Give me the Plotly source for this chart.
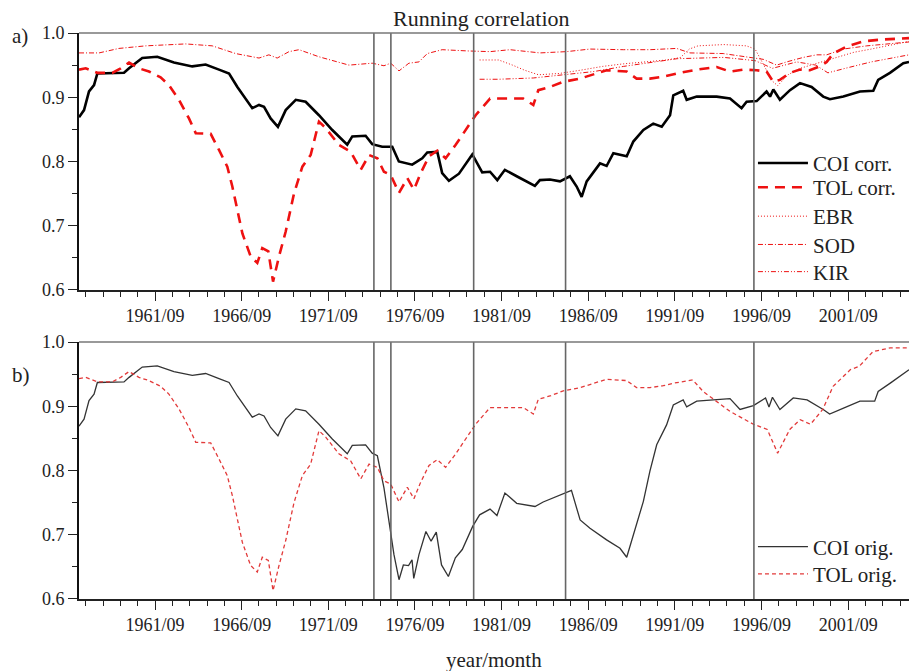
import datetime as dt
import plotly.graph_objects as go

# ---- data (time in decimal years, values are correlation coefficients) ----
COI_T = [1957.28, 1957.57, 1957.86, 1958.15, 1958.34, 1959.20, 1959.88, 1960.17, 1960.93,
         1961.80, 1962.76, 1963.82, 1964.59, 1965.36, 1965.94, 1966.42, 1966.90, 1967.28,
         1967.67, 1967.96, 1968.34, 1968.76, 1969.21, 1969.79, 1970.36, 1971.13, 1971.90,
         1972.76, 1973.05, 1973.82, 1974.20]
COI_V = [0.869, 0.880, 0.909, 0.919, 0.937, 0.938, 0.938, 0.945, 0.961,
         0.963, 0.954, 0.948, 0.951, 0.943, 0.937, 0.916, 0.898, 0.883,
         0.888, 0.885, 0.867, 0.854, 0.880, 0.896, 0.893, 0.872, 0.849,
         0.826, 0.839, 0.840, 0.827]

COI_CORR_LATE_T = [1974.78, 1975.36, 1975.74, 1976.51, 1977.09, 1977.38, 1977.96, 1978.24,
                   1978.63, 1979.21, 1979.98, 1980.55, 1981.00, 1981.42, 1981.86, 1982.54,
                   1983.59, 1983.88, 1984.46, 1985.04, 1985.61, 1986.00, 1986.29, 1986.58,
                   1987.35, 1987.73, 1988.12, 1988.89, 1989.27, 1989.85, 1990.42, 1990.91,
                   1991.39, 1991.58, 1992.15, 1992.35, 1992.93, 1994.08, 1994.85, 1995.52,
                   1995.81, 1996.39, 1996.96, 1997.16, 1997.35, 1997.73, 1998.31, 1998.89,
                   1999.56, 2000.23, 2000.62, 2001.39, 2002.35, 2003.12, 2003.40, 2004.08,
                   2004.85, 2005.18]
COI_CORR_LATE_V = [0.823, 0.823, 0.800, 0.795, 0.805, 0.814, 0.815, 0.782,
                   0.770, 0.781, 0.811, 0.783, 0.784, 0.771, 0.787, 0.777,
                   0.762, 0.771, 0.772, 0.769, 0.777, 0.761, 0.745, 0.769,
                   0.797, 0.793, 0.813, 0.808, 0.831, 0.849, 0.859, 0.854,
                   0.872, 0.903, 0.910, 0.896, 0.901, 0.901, 0.898, 0.883,
                   0.893, 0.894, 0.909, 0.901, 0.912, 0.896, 0.911, 0.922,
                   0.916, 0.901, 0.897, 0.901, 0.909, 0.910, 0.927, 0.938,
                   0.953, 0.955]

COI_ORIG_LATE_T = [1974.50, 1974.88, 1975.27, 1975.46, 1975.75, 1976.00, 1976.30, 1976.50,
                   1976.60, 1976.90, 1977.30, 1977.60, 1977.90, 1978.20, 1978.60, 1979.00,
                   1979.40, 1980.00, 1980.40, 1981.00, 1981.40, 1981.86, 1982.54, 1983.60,
                   1984.07, 1984.85, 1985.70, 1986.20, 1986.77, 1987.73, 1988.50, 1988.89,
                   1989.46, 1989.85, 1990.23, 1990.62, 1991.19, 1991.58, 1992.15, 1992.35,
                   1992.93, 1994.08, 1994.85, 1995.43, 1996.20, 1996.90, 1997.10, 1997.30,
                   1997.73, 1998.50, 1999.30, 2000.23, 2000.60, 2001.40, 2002.35, 2003.20,
                   2003.40, 2004.10, 2005.18]
COI_ORIG_LATE_V = [0.823, 0.773, 0.705, 0.669, 0.630, 0.653, 0.652, 0.661,
                   0.632, 0.669, 0.705, 0.690, 0.704, 0.653, 0.635, 0.664,
                   0.677, 0.713, 0.731, 0.740, 0.730, 0.765, 0.749, 0.744,
                   0.751, 0.760, 0.769, 0.723, 0.710, 0.692, 0.679, 0.665,
                   0.716, 0.752, 0.799, 0.840, 0.871, 0.902, 0.910, 0.899,
                   0.908, 0.910, 0.912, 0.895, 0.901, 0.913, 0.899, 0.914,
                   0.895, 0.913, 0.910, 0.895, 0.888, 0.897, 0.908, 0.908,
                   0.923, 0.936, 0.957]

TOL_T = [1957.28, 1957.67, 1958.34, 1959.20, 1959.69, 1960.17, 1960.74, 1961.32, 1961.99,
         1962.47, 1963.05, 1963.63, 1964.02, 1964.88, 1965.36, 1965.84, 1966.13, 1966.42,
         1966.71, 1967.19, 1967.57, 1967.86, 1968.21, 1968.48, 1968.82, 1969.21, 1969.69,
         1970.17, 1970.65, 1971.13, 1971.52, 1972.28, 1972.96, 1973.54, 1974.02, 1974.50,
         1974.88, 1975.27, 1975.75, 1976.23, 1976.61, 1977.00, 1977.48, 1977.96, 1978.44,
         1979.02, 1979.60, 1980.17, 1981.00, 1981.77, 1982.92, 1983.50, 1983.79, 1984.46,
         1985.23, 1986.19, 1987.73, 1988.89, 1989.46, 1990.23, 1991.00]
TOL_V = [0.943, 0.945, 0.938, 0.938, 0.945, 0.954, 0.945, 0.940, 0.931,
         0.919, 0.896, 0.867, 0.844, 0.843, 0.818, 0.792, 0.761, 0.722,
         0.688, 0.652, 0.642, 0.665, 0.660, 0.613, 0.652, 0.691, 0.750,
         0.792, 0.810, 0.862, 0.852, 0.826, 0.815, 0.787, 0.810, 0.805,
         0.784, 0.779, 0.751, 0.774, 0.756, 0.782, 0.808, 0.817, 0.805,
         0.826, 0.849, 0.872, 0.898, 0.898, 0.898, 0.888, 0.911, 0.916,
         0.924, 0.929, 0.942, 0.940, 0.929, 0.929, 0.932]

TOL_CORR_LATE_T = [1991.96, 1992.93, 1994.08, 1994.85, 1995.62, 1996.39, 1996.96, 1997.35,
                   1997.73, 1998.31, 1998.89, 1999.46, 2000.04, 2000.43, 2000.81, 2001.58,
                   2002.54, 2003.69, 2005.18]
TOL_CORR_LATE_V = [0.938, 0.943, 0.947, 0.940, 0.943, 0.942, 0.940, 0.924,
                   0.927, 0.938, 0.943, 0.942, 0.948, 0.955, 0.968, 0.979,
                   0.987, 0.990, 0.992]

TOL_ORIG_LATE_T = [1991.60, 1992.70, 1993.30, 1994.85, 1996.20, 1997.00, 1997.60, 1998.30,
                   1998.90, 1999.50, 2000.20, 2000.80, 2001.80, 2002.30, 2003.10, 2004.10,
                   2005.18]
TOL_ORIG_LATE_V = [0.936, 0.941, 0.923, 0.892, 0.872, 0.864, 0.827, 0.864,
                   0.879, 0.872, 0.895, 0.931, 0.957, 0.962, 0.985, 0.991,
                   0.991]

SOD_T = [1957.28, 1958.44, 1959.59, 1961.13, 1963.44, 1964.97, 1966.32, 1967.67, 1968.24,
         1968.72, 1969.40, 1969.98, 1971.13, 1972.86, 1974.20, 1974.88, 1975.27, 1975.75,
         1976.32, 1976.90, 1977.38, 1978.24, 1979.79, 1981.00, 1982.15, 1983.88, 1985.42,
         1986.77, 1988.69, 1990.23, 1991.77, 1992.54, 1994.46, 1995.81, 1996.77, 1997.54,
         1998.12, 1999.08, 1999.85, 2000.43, 2001.39, 2002.74, 2004.08, 2005.18]
SOD_V = [0.969, 0.969, 0.976, 0.980, 0.983, 0.980, 0.968, 0.961, 0.966,
         0.961, 0.971, 0.974, 0.963, 0.950, 0.953, 0.949, 0.953, 0.941,
         0.953, 0.955, 0.968, 0.974, 0.972, 0.971, 0.974, 0.969, 0.971,
         0.975, 0.974, 0.974, 0.976, 0.969, 0.968, 0.963, 0.959, 0.950,
         0.955, 0.962, 0.966, 0.966, 0.975, 0.980, 0.983, 0.986]

EBR_T = [1980.40, 1981.50, 1982.30, 1983.00, 1983.80, 1985.00, 1986.20, 1987.50, 1988.70,
         1990.00, 1991.20, 1992.00, 1992.50, 1993.00, 1994.50, 1995.80, 1996.30, 1996.80,
         1997.30, 1997.60, 1998.20, 1998.90, 1999.50, 2000.20, 2001.00, 2002.00, 2003.00,
         2004.00, 2005.18]
EBR_V = [0.958, 0.958, 0.950, 0.942, 0.935, 0.937, 0.942, 0.948, 0.952,
         0.955, 0.958, 0.962, 0.975, 0.980, 0.982, 0.980, 0.975, 0.950,
         0.925, 0.918, 0.935, 0.945, 0.950, 0.955, 0.962, 0.970, 0.975,
         0.980, 0.987]

KIR_T = [1980.40, 1981.50, 1983.50, 1985.40, 1987.00, 1988.70, 1990.00, 1991.80, 1994.50,
         1996.30, 1997.30, 1998.70, 1999.80, 2000.50, 2001.50, 2003.00, 2005.18]
KIR_V = [0.928, 0.928, 0.930, 0.935, 0.940, 0.948, 0.953, 0.960, 0.962,
         0.957, 0.945, 0.955, 0.950, 0.938, 0.945, 0.955, 0.966]

# dates of the vertical reference lines
EVENT_T = [1974.30, 1975.28, 1980.06, 1985.36, 1996.23]

X_RANGE = [1957.28, 2005.18]


def to_date(y):
    """Decimal year -> ISO date string."""
    year = int(y)
    start = dt.datetime(year, 1, 1)
    end = dt.datetime(year + 1, 1, 1)
    return (start + (end - start) * (y - year)).strftime("%Y-%m-%d")


def dates(ts):
    return [to_date(t) for t in ts]


SERIF = "Liberation Serif"
RED = "#ee1111"

# (name, x, y, line style, subplot)
series = [
    ("COI corr.", COI_T + COI_CORR_LATE_T, COI_V + COI_CORR_LATE_V,
     dict(color="black", width=2.6), 1),
    ("TOL corr.", TOL_T + TOL_CORR_LATE_T, TOL_V + TOL_CORR_LATE_V,
     dict(color=RED, width=2.6, dash="10px,7px"), 1),
    ("EBR", EBR_T, EBR_V, dict(color=RED, width=1, dash="1px,2px"), 1),
    ("SOD", SOD_T, SOD_V, dict(color=RED, width=1, dash="5px,2px,1px,2px"), 1),
    ("KIR", KIR_T, KIR_V, dict(color=RED, width=1, dash="5px,2px,1px,2px,1px,2px"), 1),
    ("COI orig.", COI_T + COI_ORIG_LATE_T, COI_V + COI_ORIG_LATE_V,
     dict(color="#333333", width=1.3), 2),
    ("TOL orig.", TOL_T + TOL_ORIG_LATE_T, TOL_V + TOL_ORIG_LATE_V,
     dict(color="#e23a3a", width=1.3, dash="4px,3px"), 2),
]

# one legend box per entry so the rows sit at a fixed spacing
LEGEND_TOPS = [0.806, 0.763, 0.712, 0.662, 0.614, 0.128, 0.080]
legend_font = dict(family=SERIF, size=21, color="#222222")

fig = go.Figure()
legend_layout = {}
for i, (name, ts, vs, line, row) in enumerate(series):
    key = "legend" if i == 0 else f"legend{i + 1}"
    sfx = "" if row == 1 else "2"
    fig.add_trace(go.Scatter(x=dates(ts), y=vs, mode="lines", name=name, line=line,
                             xaxis="x" + sfx, yaxis="y" + sfx, legend=key, showlegend=True))
    legend_layout[key] = dict(x=0.812, y=LEGEND_TOPS[i], xanchor="left", yanchor="top",
                              font=legend_font, bgcolor="rgba(0,0,0,0)", itemwidth=50)

shapes = []
for ax_x, ax_y in (("x", "y"), ("x2", "y2")):
    for t in EVENT_T:
        shapes.append(dict(type="line", xref=ax_x, yref=ax_y + " domain",
                           x0=to_date(t), x1=to_date(t), y0=0, y1=1,
                           line=dict(color="#666666", width=1.6)))
    shapes.append(dict(type="line", xref="paper", yref=ax_y + " domain",
                       x0=0, x1=1, y0=1, y1=1, line=dict(color="#777777", width=1.6)))

tick_font = dict(family=SERIF, size=18, color="#222222")
xcommon = dict(type="date", range=[to_date(X_RANGE[0]), to_date(X_RANGE[1])],
               tick0="1961-09-01", dtick="M60", tickformat="%Y/%m",
               ticks="outside", ticklen=9, tickwidth=1.2, tickcolor="#222222",
               showline=True, linecolor="#222222", linewidth=1.6,
               showgrid=False, zeroline=False, tickfont=tick_font,
               minor=dict(tick0="1957-09-01", dtick="M12", ticks="outside",
                          ticklen=5, tickwidth=1.2, tickcolor="#222222", showgrid=False))
ycommon = dict(range=[0.6, 1.0], dtick=0.1, tickformat=".1f",
               ticks="outside", ticklen=9, tickwidth=1.2, tickcolor="#222222",
               showline=True, linecolor="#111111", linewidth=2,
               showgrid=False, zeroline=False, tickfont=tick_font,
               minor=dict(dtick=0.05, ticks="outside", ticklen=5, tickwidth=1.2,
                          tickcolor="#222222", showgrid=False))

fig.update_layout(
    width=909, height=671,
    showlegend=True,
    margin=dict(l=79, r=0, t=33, b=72),
    paper_bgcolor="white", plot_bgcolor="white",
    font=dict(family=SERIF, color="#222222"),
    xaxis=dict(domain=[0, 1], anchor="y", **xcommon),
    yaxis=dict(domain=[0.546, 1.0], anchor="x", **ycommon),
    xaxis2=dict(domain=[0, 1], anchor="y2", **xcommon),
    yaxis2=dict(domain=[0.0, 0.454], anchor="x2", **ycommon),
    shapes=shapes,
    annotations=[
        dict(text="Running correlation", xref="paper", yref="paper", x=0.485, y=1.0,
             xanchor="center", yanchor="bottom", yshift=0, showarrow=False,
             font=dict(family=SERIF, size=22, color="#222222")),
        dict(text="a)", xref="paper", yref="paper", x=-0.083, y=1.0,
             xanchor="left", yanchor="middle", yshift=-3, showarrow=False,
             font=dict(family=SERIF, size=21, color="#222222")),
        dict(text="b)", xref="paper", yref="paper", x=-0.083, y=0.454,
             xanchor="left", yanchor="middle", yshift=-33, showarrow=False,
             font=dict(family=SERIF, size=21, color="#222222")),
        dict(text="year/month", xref="paper", yref="paper", x=0.5, y=0,
             xanchor="center", yanchor="top", yshift=-47, showarrow=False,
             font=dict(family=SERIF, size=21, color="#222222")),
    ],
    **legend_layout,
)

fig.write_html("out.html")
